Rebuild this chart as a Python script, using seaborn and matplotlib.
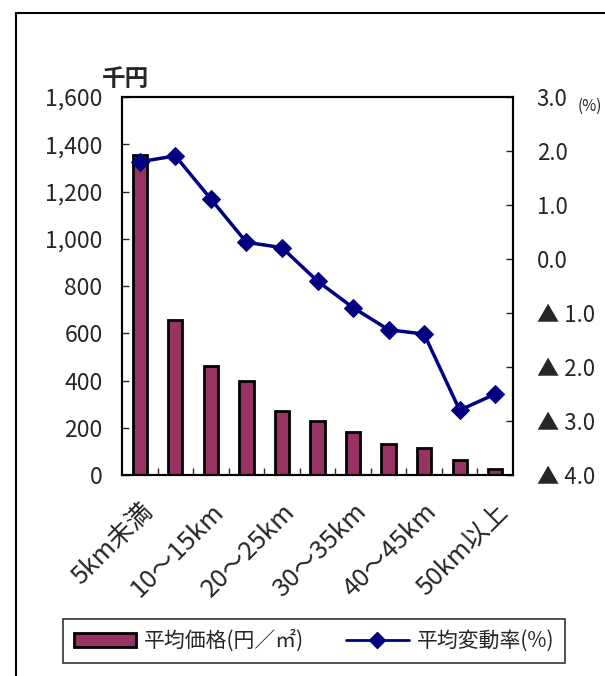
import numpy as np
import matplotlib
matplotlib.use("Agg")
import matplotlib.pyplot as plt
import matplotlib.patches as mpatches
from matplotlib.lines import Line2D
import seaborn as sns

categories = ["5km未満", "5～10km", "10～15km", "15～20km", "20～25km", "25～30km",
              "30～35km", "35～40km", "40～45km", "45～50km", "50km以上"]
avg_price = [1355, 656, 461, 399, 272, 229, 183, 130, 113, 63, 25]
avg_change = [1.80, 1.91, 1.11, 0.31, 0.21, -0.41, -0.90, -1.31, -1.39, -2.80, -2.50]

left_ticks = [0, 200, 400, 600, 800, 1000, 1200, 1400, 1600]
right_ticks = [-4, -3, -2, -1, 0, 1, 2, 3]

bar_color = "#993366"
line_color = "#000080"

sns.set_style("white")
plt.rcParams["font.family"] = ["Noto Sans CJK JP", "DejaVu Sans"]

W, H = 605, 676
fig = plt.figure(figsize=(W / 100, H / 100), dpi=100)
ax = fig.add_axes([122 / W, 1 - 475 / H, (513 - 122) / W, (475 - 97) / H])

n = len(categories)
sns.barplot(x=categories, y=avg_price, color=bar_color, edgecolor="black",
            linewidth=2, width=0.4, saturation=1, ax=ax)
ax.set_xlim(-0.5, n - 0.5)
ax.set_ylim(0, 1600)
ax.set_yticks(left_ticks)
ax.set_yticklabels([f"{v:,}" for v in left_ticks], fontsize=16.5)
ax.tick_params(axis="y", direction="in", length=5, width=1, pad=14)

ax.set_xticks(range(0, n, 2))
ax.set_xticklabels(categories[::2], rotation=45, ha="right",
                   rotation_mode="anchor", fontsize=18.5)
ax.set_xticks(np.arange(0.5, n - 0.5, 1), minor=True)
ax.tick_params(axis="x", which="major", length=0, pad=17)
ax.tick_params(axis="x", which="minor", direction="in", length=5, width=1, bottom=True)
ax.set_xlabel("")
ax.set_ylabel("")

ax2 = ax.twinx()
sns.lineplot(x=np.arange(n), y=avg_change, color=line_color, linewidth=2.5,
             marker="D", markersize=9, markeredgecolor=line_color, ax=ax2)
ax2.set_ylim(-4, 3)
ax2.set_yticks(right_ticks)
ax2.set_yticklabels([f"{v:.1f}" if v >= 0 else f"▲ {abs(v):.1f}" for v in right_ticks],
                    fontsize=16)
ax2.tick_params(axis="y", direction="in", length=5, width=1, pad=17)
ax2.set_xlim(-0.5, n - 0.5)

for a in (ax, ax2):
    for s in a.spines.values():
        s.set_visible(True)
        s.set_color("black")
        s.set_linewidth(1.5)

fig.text(126 / W, 1 - 79 / H, "千円", fontsize=17, fontweight="bold",
         ha="center", va="center")
fig.text(578 / W, 1 - 106 / H, "(%)", fontsize=11, ha="left", va="center")

handles = [
    mpatches.Patch(facecolor=bar_color, edgecolor="black", linewidth=2),
    Line2D([0], [0], color=line_color, linewidth=2, marker="D", markersize=8),
]
leg = fig.legend(handles, ["平均価格(円／㎡)", "平均変動率(%)"], ncol=2,
                 loc="center", bbox_to_anchor=(314 / W, 1 - 641 / H),
                 fontsize=15, frameon=True, fancybox=False, edgecolor="black",
                 handlelength=3.0, handletextpad=0.4, columnspacing=2.0,
                 borderpad=0.5)
leg.get_frame().set_linewidth(1.2)

border = mpatches.Rectangle((16 / W, -0.1), 2, 1 - 13 / H + 0.1, fill=False,
                            edgecolor="black", linewidth=1.5,
                            transform=fig.transFigure)
fig.patches.append(border)

fig.savefig("out.png", dpi=100)
